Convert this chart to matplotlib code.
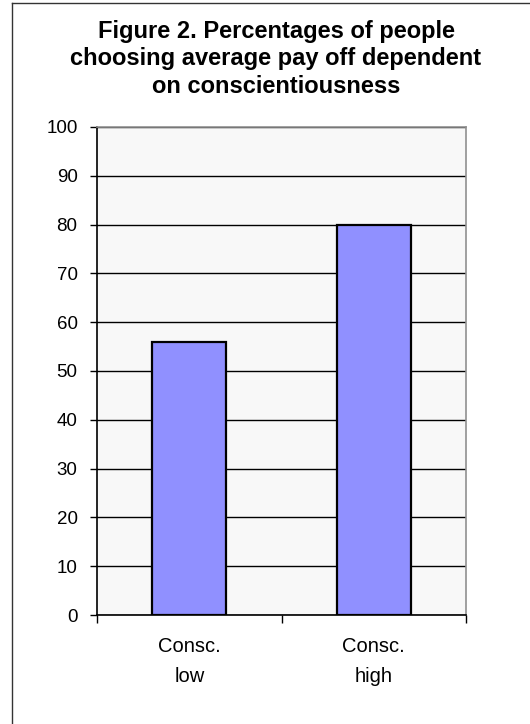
import matplotlib
matplotlib.use("Agg")
import matplotlib.pyplot as plt
from matplotlib.lines import Line2D

categories = ["Consc.\nlow", "Consc.\nhigh"]
values = [56, 80]
yticks = [0, 10, 20, 30, 40, 50, 60, 70, 80, 90, 100]
title = "Figure 2. Percentages of people\nchoosing average pay off dependent\non conscientiousness"

plt.rcParams['font.family'] = ['Liberation Sans', 'DejaVu Sans']

fig = plt.figure(figsize=(5.3, 7.24), dpi=100)
fig.patch.set_facecolor('white')
ax = fig.add_axes([97/530, 1-615/724, (466-97)/530, (615-127)/724])
ax.set_facecolor('#F8F8F8')

x = list(range(len(categories)))
ax.set_axisbelow(True)
ax.yaxis.grid(True, color='black', linewidth=1.0)
ax.bar(x, values, width=0.4, color='#9090FF', edgecolor='black', linewidth=1.6, zorder=3)

ax.set_xlim(-0.5, len(categories) - 0.5)
ax.set_ylim(0, 100)
ax.set_yticks(yticks)
ax.set_yticklabels([str(t) for t in yticks], fontsize=13.5)
ax.tick_params(axis='y', direction='out', length=5, width=1, pad=9)

ax.set_xticks([-0.5, 0.5, 1.5])
ax.set_xticklabels([])
ax.tick_params(axis='x', direction='out', length=6, width=1)
ax.set_xticks(x, minor=True)
ax.set_xticklabels(categories, minor=True, fontsize=14.5, linespacing=1.75)
ax.tick_params(axis='x', which='minor', length=0, pad=16)

ax.spines['left'].set_color('black')
ax.spines['bottom'].set_color('black')
ax.spines['top'].set_color('#909090')
ax.spines['right'].set_color('#909090')
for s in ax.spines.values():
    s.set_linewidth(1.2)

fig.text(276/530, 1-20/724, title, ha='center', va='top', fontsize=17,
         fontweight='bold', linespacing=1.25)

# outer frame (left and top edges visible)
fig.add_artist(Line2D([12/530, 12/530], [0, 1-3/724], color='#333333', linewidth=1.0,
                      transform=fig.transFigure))
fig.add_artist(Line2D([12/530, 1], [1-3/724, 1-3/724], color='#333333', linewidth=1.0,
                      transform=fig.transFigure))

fig.savefig('out.png', dpi=100)
